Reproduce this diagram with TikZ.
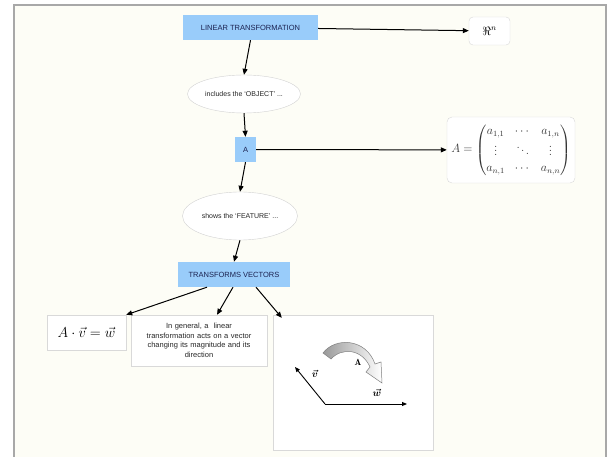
\documentclass[tikz,border=0pt]{standalone}
\usepackage{amsmath,amssymb}
\usepackage{fontspec}
\usepackage{tikz}
\usetikzlibrary{arrows.meta, shapes.geometric}
\newfontfamily\arialfont{Liberation Sans}
\definecolor{azulcaixa}{RGB}{153,204,250}
\definecolor{azultexto}{RGB}{28,34,80}
\definecolor{fundo}{RGB}{253,253,246}
\definecolor{moldura}{RGB}{168,168,168}

\begin{document}
\begin{tikzpicture}[x=1pt, y=-1pt, >={Triangle[length=6pt, width=5pt]},
    conceito/.style={fill=azulcaixa, text=azultexto, inner sep=0pt, font=\arialfont\fontsize{7.5}{9}\selectfont},
    frase/.style={ellipse, draw=gray!35, fill=white, inner sep=0pt, text=black!85, font=\arialfont\fontsize{7}{8}\selectfont},
    cartao/.style={draw=gray!30, fill=white, inner sep=0pt},
    seta/.style={->, line width=1pt}]
    \useasboundingbox (0,0) rectangle (610,457);
    % Fundo
    \fill[white] (0,0) rectangle (610,457);
    \fill[fundo] (14,5) rectangle (606,457);
    \draw[moldura, line width=1.2pt] (14,457) -- (14,5) -- (606,5) -- (606,457);

    % Conceitos
    \node[conceito, minimum width=135, minimum height=25] (LT) at (250.5,27.5) {LINEAR TRANSFORMATION};
    \node[cartao, rounded corners=4pt, minimum width=41, minimum height=28] (RN) at (489.5,31) {\large$\Re^n$};
    \node[frase, minimum width=113, minimum height=38] (E1) at (244,94) {includes the ‘OBJECT’ ...};
    \node[conceito, minimum width=21, minimum height=25] (A) at (245.5,149.5) {A};
    \node[cartao, rounded corners=5pt, minimum width=128, minimum height=66, text=black!80] (MAT) at (511,150)
        {\large\renewcommand{\arraystretch}{1.2}$A=\begin{pmatrix} a_{1,1} & \cdots & a_{1,n}\\ \vdots & \ddots & \vdots\\ a_{n,1} & \cdots & a_{n,n}\end{pmatrix}$};
    \node[frase, minimum width=115, minimum height=48] (E2) at (240,216) {shows the ‘FEATURE’ ...};
    \node[conceito, minimum width=112, minimum height=25] (TV) at (234,274.5) {TRANSFORMS VECTORS};

    % Exemplos
    \node[cartao, minimum width=79, minimum height=35] (EQ) at (86.5,332.5) {\Large$A\cdot\vec{v}=\vec{w}$};
    \node[cartao, minimum width=136, minimum height=51, text width=126, align=center, text=black!85,
        font=\arialfont\fontsize{7.5}{9.5}\selectfont] (TXT) at (199,340.5)
        {In general, a\ \ linear\\ transformation acts on a vector\\ changing its magnitude and its\\ direction};
    \node[cartao, minimum width=160, minimum height=135] (FIG) at (353,382.5) {};

    % Setas
    \draw[seta] (LT) -- (RN);
    \draw[seta] (LT.south) -- (E1.north);
    \draw[seta] (E1.south) -- (A.north);
    \draw[seta] (A) -- (MAT);
    \draw[seta] (A.south) -- (E2.north);
    \draw[seta] (E2.south) -- (TV.north);
    \draw[seta] ([xshift=-27]TV.south) -- (EQ.north east);
    \draw[seta] ([xshift=-1]TV.south) -- ([xshift=18]TXT.north);
    \draw[seta] ([xshift=22]TV.south) -- ([xshift=9, yshift=-3]FIG.north west);

    % Vetores
    \coordinate (O) at (325,404);
    \coordinate (V) at (295,367);
    \coordinate (W) at (407,404);
    \draw[->, line width=0.9pt, >={Triangle[length=5pt, width=4pt]}] (O) -- (V);
    \draw[->, line width=0.9pt, >={Triangle[length=5pt, width=4pt]}] (O) -- (W);
    \node (vlab) at (315,374) {$\boldsymbol{\vec{v}}$};
    \node (wlab) at (377,393) {$\boldsymbol{\vec{w}}$};
    \node (alab) at (358,362) {\small$\mathbf{A}$};
    \draw[gray, left color=gray!80, right color=white, line width=0.5pt]
        (323,353) .. controls (335,337) and (366,338) .. (375,364) -- (381,362) -- (382,383)
        -- (366,372) -- (370,367) .. controls (362,349) and (342,347) .. (331,359) -- cycle;
\end{tikzpicture}
\end{document}
